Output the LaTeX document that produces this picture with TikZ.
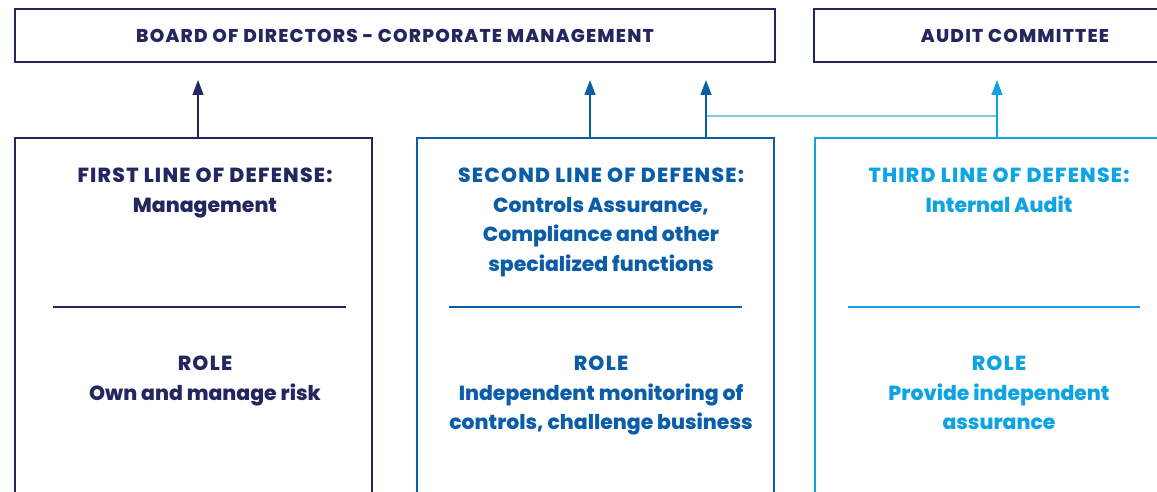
\documentclass[tikz,border=0pt]{standalone}
\usepackage{fontspec}
\setmainfont{Poppins}[BoldFont={Poppins ExtraBold}]
\usetikzlibrary{positioning,arrows.meta}

\definecolor{navy}{HTML}{23265F}
\definecolor{midblue}{HTML}{0B5DA8}
\definecolor{skyblue}{HTML}{0EA4E3}
\definecolor{linkblue}{HTML}{86C6E2}

% capital headings are set a little wider
\newcommand{\spacedcaps}[1]{{\addfontfeature{LetterSpace=6}#1}}

\tikzset{
  topbox/.style={draw=navy, line width=2pt, anchor=north west, minimum height=53pt,
    font=\bfseries\fontsize{18.5}{20}\selectfont\addfontfeature{LetterSpace=6.4}, text=navy},
  linebox/.style={draw=#1, line width=2pt, anchor=north west,
    minimum width=357pt, minimum height=420pt},
  boxtext/.style={align=center, anchor=north, inner sep=0pt, text=#1,
    font=\bfseries\fontsize{20.4}{29.5}\selectfont},
  rule/.style={draw=#1, line width=1.6pt},
  up/.style={draw=#1, line width=1.4pt, shorten >=17pt,
    -{Triangle[length=15pt,width=11pt]}},
  link/.style={draw=linkblue, line width=1.2pt},
}

\begin{document}
\begin{tikzpicture}[x=1pt, y=-1pt]
  \clip (0,0) rectangle (1157,492);
  % governing bodies
  \node[topbox, minimum width=760pt] (board) at (14,8) {BOARD OF DIRECTORS - CORPORATE MANAGEMENT};
  \node[topbox, minimum width=402pt] (audit) at (813,8) {AUDIT COMMITTEE};
  % the three lines
  \node[linebox=navy] (first) at (14,137) {};
  \node[linebox=midblue] (second) at (416,137) {};
  \node[linebox=skyblue] (third) at (814,137) {};
  \node[boxtext=navy] (firsthead) at (205,168) {\spacedcaps{FIRST LINE OF DEFENSE:}\\Management};
  \node[boxtext=midblue] (secondhead) at (601,168) {\spacedcaps{SECOND LINE OF DEFENSE:}\\Controls Assurance,\\Compliance and other\\specialized functions};
  \node[boxtext=skyblue] (thirdhead) at (999,168) {\spacedcaps{THIRD LINE OF DEFENSE:}\\Internal Audit};
  \draw[rule=navy] (53,307) -- (346,307);
  \draw[rule=midblue] (449,307) -- (742,307);
  \draw[rule=skyblue] (848,307) -- (1140,307);
  \node[boxtext=navy] (firstrole) at (205,356) {\spacedcaps{ROLE}\\Own and manage risk};
  \node[boxtext=midblue] (secondrole) at (601,356) {\spacedcaps{ROLE}\\Independent monitoring of\\controls, challenge business};
  \node[boxtext=skyblue] (thirdrole) at (999,356) {\spacedcaps{ROLE}\\Provide independent\\assurance};
  % reporting arrows
  \coordinate (firstup) at (198,0);
  \coordinate (secondup) at (590,0);
  \coordinate (secondlink) at (706,0);
  \coordinate (thirdup) at (997,0);
  \coordinate (linkrow) at (0,116);
  \draw[link] (linkrow -| secondlink) -- (linkrow -| thirdup);
  \draw[up=navy] (first.north -| firstup) -- (board.south -| firstup);
  \draw[up=midblue] (second.north -| secondup) -- (board.south -| secondup);
  \draw[up=midblue] (second.north -| secondlink) -- (board.south -| secondlink);
  \draw[up=skyblue] (third.north -| thirdup) -- (audit.south -| thirdup);
\end{tikzpicture}
\end{document}
